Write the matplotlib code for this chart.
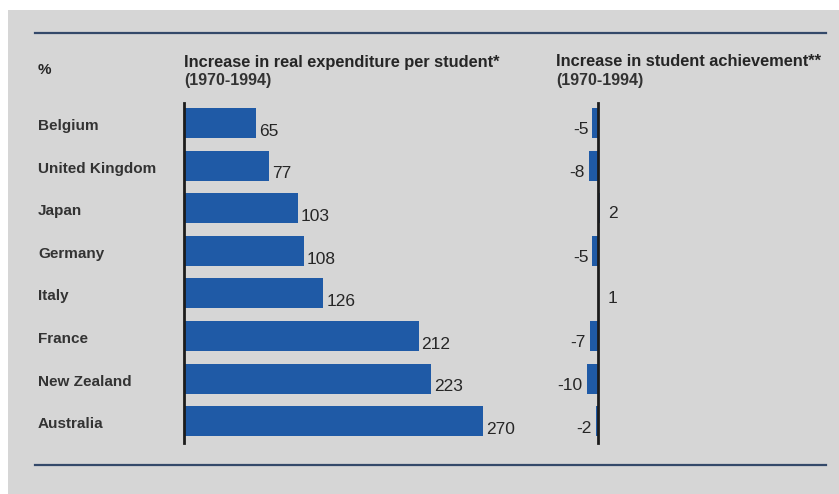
import numpy as np
import matplotlib
matplotlib.use("Agg")
from matplotlib import pyplot as plt
from matplotlib.patches import Rectangle
from matplotlib.lines import Line2D

# data
countries = ['Belgium', 'United Kingdom', 'Japan', 'Germany', 'Italy',
             'France', 'New Zealand', 'Australia']
expenditure = [65, 77, 103, 108, 126, 212, 223, 270]
achievement = [-5, -8, 2, -5, 1, -7, -10, -2]

W, H = 839, 494
BLUE = '#1f5aa6'
BG = '#d6d6d6'
TXT = '#262626'
LINE = '#34496a'
plt.rcParams['font.family'] = ['Liberation Sans', 'DejaVu Sans']

fig = plt.figure(figsize=(W / 100, H / 100), dpi=100)
fig.patch.set_facecolor('white')
fig.patches.append(Rectangle((8 / W, 0), 1, 1 - 10 / H, transform=fig.transFigure,
                             facecolor=BG, edgecolor='none', zorder=-10))

def fx(px):
    return px / W

def fy(py):
    return 1 - py / H

# horizontal rules
for y in (33, 465):
    fig.add_artist(Line2D([fx(35), fx(826)], [fy(y), fy(y)], color=LINE, lw=1.6))

scale = 1.107  # pixels per unit, same for both panels
top, bot = 103, 443
row0, step = 123, 42.6
ylim = ((bot - row0) / step, (top - row0) / step)
y = np.arange(len(countries))

def make_ax(left_px, right_px, zero_px):
    ax = fig.add_axes([fx(left_px), fy(bot), (right_px - left_px) / W, (bot - top) / H])
    ax.set_xlim(-(zero_px - left_px) / scale, (right_px - zero_px) / scale)
    ax.set_ylim(*ylim)
    ax.patch.set_visible(False)
    for s in ('top', 'right', 'bottom'):
        ax.spines[s].set_visible(False)
    ax.spines['left'].set_position(('data', 0))
    ax.spines['left'].set_color('#1c1c1c')
    ax.spines['left'].set_linewidth(2)
    ax.set_xticks([])
    ax.set_yticks([])
    return ax

ax1 = make_ax(184, 540, 184)
ax1.barh(y, expenditure, height=0.7, color=BLUE, zorder=1)
for yi, v in zip(y, expenditure):
    ax1.annotate(str(v), (v, yi), xytext=(2, -6), textcoords='offset points',
                 ha='left', va='center', fontsize=12.5, color=TXT)

ax2 = make_ax(540, 700, 598)
ax2.barh(y, achievement, height=0.7, color=BLUE, zorder=1)
for yi, v in zip(y, achievement):
    if v < 0:
        ax2.annotate(str(v), (v, yi), xytext=(-3, -5), textcoords='offset points',
                     ha='right', va='center', fontsize=12.5, color=TXT)
    else:
        ax2.annotate(str(v), (v, yi), xytext=(6, -4), textcoords='offset points',
                     ha='left', va='center', fontsize=12.5, color=TXT)

# country names
for i, c in enumerate(countries):
    fig.text(fx(38), fy(row0 + step * i + 3), c, ha='left', va='center',
             fontsize=11, fontweight='bold', color='#333333')

# headers
fig.text(fx(38), fy(70), '%', ha='left', va='center', fontsize=11,
         fontweight='bold', color=TXT)
fig.text(fx(184), fy(62), 'Increase in real expenditure per student*', ha='left',
         va='center', fontsize=11.8, fontweight='bold', color=TXT)
fig.text(fx(184), fy(80), '(1970-1994)', ha='left', va='center', fontsize=11.5,
         fontweight='bold', color='#333333')
fig.text(fx(556), fy(62), 'Increase in student achievement**', ha='left',
         va='center', fontsize=11.8, fontweight='bold', color=TXT)
fig.text(fx(556), fy(80), '(1970-1994)', ha='left', va='center', fontsize=11.5,
         fontweight='bold', color='#333333')

fig.savefig('out.png', dpi=100, facecolor=fig.get_facecolor())
